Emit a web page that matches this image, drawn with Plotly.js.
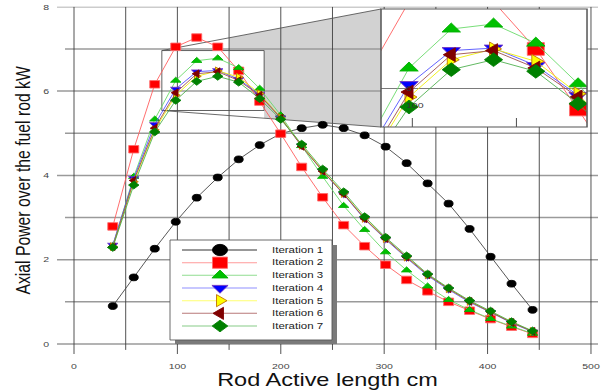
<!DOCTYPE html>
<html><head><meta charset="utf-8">
<script src="https://cdn.plot.ly/plotly-3.0.1.min.js"></script>
<style>
html,body{margin:0;padding:0;background:#fff;overflow:hidden;width:606px;height:391px}
#wrap{width:606px;height:391px;overflow:hidden;position:relative}
#chart{width:606px;height:521px;transform:scale(1,0.75);transform-origin:0 0}
</style></head><body><div id="wrap"><div id="chart"></div></div>
<script>
// ---------------- data ----------------
const positions = [37.5, 57.8, 78.1, 98.4, 118.7, 139.0, 159.3, 179.6, 199.9, 220.2, 240.5,
                   260.8, 281.1, 301.4, 321.7, 342.0, 362.3, 382.6, 402.9, 423.2, 443.5];
const iteration1 = [0.90, 1.58, 2.26, 2.90, 3.47, 3.95, 4.38, 4.72, 4.99, 5.12, 5.20,
                    5.12, 4.95, 4.68, 4.29, 3.81, 3.33, 2.73, 2.07, 1.43, 0.81];
const iteration2 = [2.79, 4.62, 6.16, 7.05, 7.27, 7.05, 6.48, 5.75, 4.99, 4.20, 3.48,
                    2.82, 2.32, 1.88, 1.52, 1.25, 1.00, 0.79, 0.59, 0.41, 0.24];
const iteration3 = [2.33, 3.97, 5.33, 6.25, 6.72, 6.78, 6.55, 6.06, 5.43, 4.70, 3.97,
                    3.28, 2.71, 2.18, 1.75, 1.37, 1.05, 0.81, 0.60, 0.42, 0.25];
const iteration4 = [2.35, 3.93, 5.21, 6.05, 6.46, 6.49, 6.28, 5.92, 5.37, 4.70, 4.10,
                    3.55, 2.96, 2.48, 2.04, 1.62, 1.29, 0.99, 0.75, 0.50, 0.29];
const iteration5 = [2.31, 3.85, 5.08, 5.90, 6.35, 6.48, 6.33, 5.94, 5.37, 4.71, 4.11,
                    3.57, 2.98, 2.50, 2.06, 1.64, 1.31, 1.01, 0.76, 0.52, 0.30];
const iteration6 = [2.31, 3.88, 5.12, 5.96, 6.41, 6.46, 6.25, 5.90, 5.36, 4.69, 4.10,
                    3.56, 2.97, 2.50, 2.06, 1.64, 1.31, 1.01, 0.76, 0.51, 0.30];
const iteration7 = [2.29, 3.77, 5.03, 5.78, 6.23, 6.35, 6.21, 5.82, 5.33, 4.74, 4.15,
                    3.61, 3.02, 2.53, 2.09, 1.66, 1.33, 1.03, 0.78, 0.53, 0.31];
const seriesNames = ['Iteration 1','Iteration 2','Iteration 3','Iteration 4','Iteration 5','Iteration 6','Iteration 7'];
const xTicks = [0, 100, 200, 300, 400, 500];
const yTicks = [0, 2, 4, 6, 8];
const xGrid = [0, 50, 100, 150, 200, 250, 300, 350, 400, 450, 500];
const yGrid = [0, 1, 2, 3, 4, 5, 6, 7, 8];
const insetX = [84.95, 183.9];
const insetY = [5.539, 6.961];
const insetXTicks = [100, 150];
const insetYTicks = [6];

// ---------------- styles ----------------
const FONT = 'Liberation Sans, Arial, sans-serif';
const values = [iteration1, iteration2, iteration3, iteration4, iteration5, iteration6, iteration7];
const styles = [
  {sym:'circle',        fill:'#000000', edge:'#000000', line:'#404040', leg:'#333333', s:9,  si:15, sl:15},
  {sym:'square',        fill:'#ff0000', edge:'#ff6a6a', line:'#ff5a5a', leg:'#ff9a9a', s:10, si:17, sl:15},
  {sym:'triangle-up',   fill:'#00c000', edge:'#00b000', line:'#66d966', leg:'#90dd90', s:9,  si:16, sl:14},
  {sym:'triangle-down', fill:'#0000ff', edge:'#7030c0', line:'#4d4dff', leg:'#9090ff', s:9,  si:16, sl:14},
  {sym:'triangle-right',fill:'#ffff00', edge:'#c07000', line:'#eeee00', leg:'#ffff70', s:9,  si:16, sl:14},
  {sym:'triangle-left', fill:'#800000', edge:'#800000', line:'#9c4a4a', leg:'#b87878', s:9,  si:16, sl:14},
  {sym:'diamond',       fill:'#008000', edge:'#008000', line:'#4caf4c', leg:'#88cc88', s:8,  si:14, sl:12}
];

const traces = [];
values.forEach((v, i) => {
  const st = styles[i];
  traces.push({x: positions, y: v, xaxis:'x', yaxis:'y', type:'scatter', mode:'lines+markers', name: seriesNames[i],
    line:{color:st.line, width:1}, marker:{symbol:st.sym, size:st.s, color:st.fill, line:{color:st.edge, width:1}},
    hoverinfo:'skip', showlegend:false});
});
values.forEach((v, i) => {
  const st = styles[i];
  traces.push({x: positions, y: v, xaxis:'x2', yaxis:'y2', type:'scatter', mode:'lines+markers', name: seriesNames[i],
    line:{color:st.line, width:1}, marker:{symbol:st.sym, size:st.si, color:st.fill, line:{color:st.edge, width:1}},
    hoverinfo:'skip', showlegend:false});
});

// legend (drawn on an overlay axis measured in reference pixels)
const legBox = {x0:170, x1:332, y0:240, y1:340};
const legRow0 = 250, legGap = 12.67, legLineX0 = 182, legLineX1 = 257, legMarkX = 220, legTextX = 270;
const shapes = [];
const annotations = [];

// gray zoom wedge (main data coordinates)
const insetCornerX = 296.9, insetTopY = 7.946, insetBotY = 5.147;
const topAt = x => insetY[1] + (x - insetX[0]) / (insetCornerX - insetX[0]) * (insetTopY - insetY[1]);
const botAt = x => insetY[0] + (x - insetX[0]) / (insetCornerX - insetX[0]) * (insetBotY - insetY[0]);
shapes.push({type:'path', xref:'x', yref:'y', layer:'below',
  path:`M150,${topAt(150)} L${insetCornerX},${insetTopY} L${insetCornerX},${insetBotY} L${insetX[1]},${botAt(insetX[1])} L${insetX[1]},${insetY[1]} L150,${insetY[1]} Z`,
  fillcolor:'#d2d2d2', line:{width:0}});

// grid lines
yGrid.forEach(g => {
  shapes.push({type:'line', xref:'x', yref:'y', layer:'below', x0: g % 2 === 0 ? -16.44 : -8.7, x1: 506.8, y0:g, y1:g,
    line:{color:'#9a9a9a', width:2}});
});
xGrid.forEach(g => {
  shapes.push({type:'line', xref:'x', yref:'y', layer:'below', x0:g, x1:g, y0:8, y1: g % 100 === 0 ? -0.237 : -0.14,
    line:{color:'#3a3a3a', width:1}});
});
// zoom rectangle and connectors
shapes.push({type:'rect', xref:'x', yref:'y', layer:'below', x0:insetX[0], x1:insetX[1], y0:insetY[0], y1:insetY[1],
  line:{color:'#4a4a4a', width:1}, fillcolor:'rgba(0,0,0,0)'});
shapes.push({type:'line', xref:'x', yref:'y', layer:'below', x0:insetX[0], y0:insetY[1], x1:insetCornerX, y1:insetTopY, line:{color:'#555', width:1}});
shapes.push({type:'line', xref:'x', yref:'y', layer:'below', x0:insetX[0], y0:insetY[0], x1:insetCornerX, y1:insetBotY, line:{color:'#555', width:1}});
// inset background + border
shapes.push({type:'rect', xref:'x2', yref:'y2', layer:'below', x0:insetX[0], x1:insetX[1], y0:insetY[0], y1:insetY[1],
  fillcolor:'#ffffff', line:{width:0}});
shapes.push({type:'rect', xref:'x2 domain', yref:'y2 domain', layer:'above', x0:0, x1:1, y0:0, y1:1,
  fillcolor:'rgba(0,0,0,0)', line:{color:'#555', width:1.5}});
annotations.push({xref:'x2', yref:'y2', x:98.4, y:6.0, text:'6', showarrow:false, font:{family:FONT, size:10.5, color:'#333'}});
annotations.push({xref:'x2', yref:'y2', x:101.3, y:5.80, text:'100', showarrow:false, font:{family:FONT, size:10.5, color:'#333'}});

// legend box
shapes.push({type:'rect', xref:'x3', yref:'y3', layer:'below', x0:legBox.x0+5, x1:legBox.x1+5, y0:legBox.y0+5, y1:legBox.y1+4,
  fillcolor:'#7a7a7a', line:{width:0}});
shapes.push({type:'rect', xref:'x3', yref:'y3', layer:'below', x0:legBox.x0, x1:legBox.x1, y0:legBox.y0, y1:legBox.y1,
  fillcolor:'#ffffff', line:{color:'#555', width:1}});
seriesNames.forEach((n, i) => {
  const yy = legRow0 + i * legGap;
  shapes.push({type:'line', xref:'x3', yref:'y3', layer:'below', x0:legLineX0, x1:legLineX1, y0:yy, y1:yy,
    line:{color:styles[i].leg, width:1.3}});
  traces.push({x:[legMarkX], y:[yy], xaxis:'x3', yaxis:'y3', type:'scatter', mode:'markers', hoverinfo:'skip', showlegend:false,
    marker:{symbol:styles[i].sym, size:styles[i].sl, color:styles[i].fill, line:{color:styles[i].edge, width:1}}});
  annotations.push({xref:'x3', yref:'y3', x:legTextX, y:yy, xanchor:'left', yanchor:'middle', text:n, showarrow:false,
    font:{family:FONT, size:11.5, color:'#222'}});
});

const layout = {
  width:606, height:521,
  margin:{l:57, r:8, t:9, b:49, pad:0},
  paper_bgcolor:'#ffffff', plot_bgcolor:'rgba(0,0,0,0)',
  showlegend:false,
  xaxis:{domain:[0,1], anchor:'y', range:[-16.44, 506.8], showgrid:false, zeroline:false, showline:false, ticks:'',
    tickvals:xTicks, ticktext:xTicks.map(String), tickfont:{family:FONT, size:10.5, color:'#444'}, ticklabelstandoff:8,
    title:{text:'Rod Active length cm', font:{family:FONT, size:23.5, color:'#111'}, standoff:4}},
  yaxis:{domain:[0,1], anchor:'x', range:[-0.237, 8], showgrid:false, zeroline:false, showline:false, ticks:'',
    tickvals:yTicks, ticktext:yTicks.map(String), tickfont:{family:FONT, size:10.5, color:'#444'}, ticklabelstandoff:7,
    title:{text:'Axial Power over the fuel rod kW', font:{family:FONT, size:21, color:'#111'}, standoff:6}},
  xaxis2:{domain:[0.5989, 0.9797], anchor:'y2', range:insetX, showgrid:false, zeroline:false, showline:false,
    ticks:'inside', ticklen:12, tickwidth:1, tickcolor:'#333', tickvals:insetXTicks, showticklabels:false},
  yaxis2:{domain:[0.6537, 0.9935], anchor:'x2', range:insetY, showgrid:true, gridcolor:'#7a7a7a', gridwidth:1.5,
    zeroline:false, showline:false, ticks:'', tickvals:insetYTicks, showticklabels:false},
  xaxis3:{domain:[0,1], anchor:'y3', range:[57, 598], visible:false},
  yaxis3:{domain:[0,1], anchor:'x3', range:[354, 6.75], visible:false},
  shapes:shapes,
  annotations:annotations
};
Plotly.newPlot('chart', traces, layout, {staticPlot:true, displayModeBar:false});
</script></body></html>
